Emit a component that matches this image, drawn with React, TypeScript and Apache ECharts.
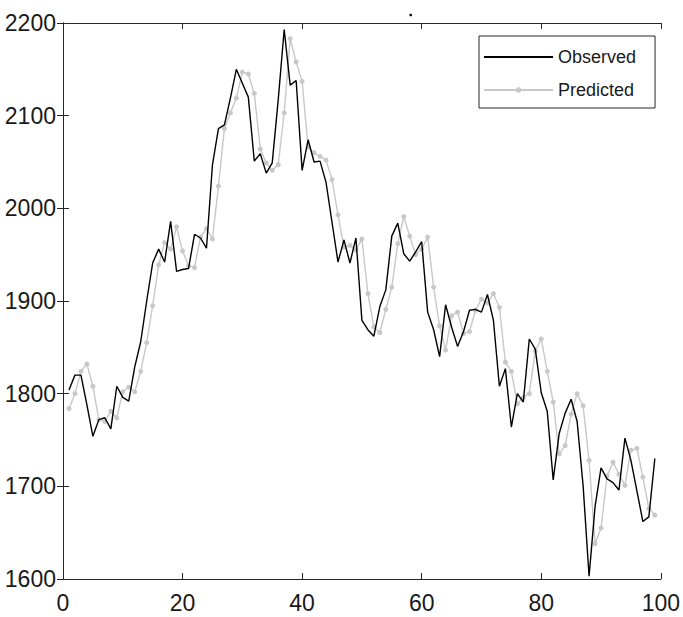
import React, { useEffect, useRef } from "react";
import * as echarts from "echarts";

const xTicks = [0, 20, 40, 60, 80, 100];
const yTickRange = { min: 1600, max: 2200, step: 100 };

const observed = [
  1804, 1820, 1820, 1788, 1754, 1772, 1774, 1762, 1808, 1796,
  1792, 1829, 1856, 1900, 1941, 1956, 1942, 1986, 1932, 1934,
  1935, 1972, 1968, 1957, 2047, 2086, 2090, 2119, 2150, 2135,
  2120, 2051, 2059, 2038, 2049, 2117, 2193, 2133, 2138, 2041,
  2074, 2050, 2051, 2028, 1985, 1942, 1966, 1941, 1968, 1879,
  1869, 1862, 1894, 1912, 1970, 1984, 1951, 1943, 1953, 1964,
  1888, 1869, 1840, 1896, 1872, 1851, 1867, 1890, 1891, 1888,
  1907, 1879, 1808, 1827, 1764, 1800, 1791, 1859, 1848, 1801,
  1781, 1707, 1757, 1779, 1794, 1770, 1701, 1603, 1678, 1720,
  1708, 1704, 1696, 1752, 1728, 1695, 1662, 1667, 1730,
];

const predicted = [
  1784, 1800, 1824, 1832, 1808, 1772, 1770, 1781, 1774, 1802,
  1807, 1802, 1824, 1855, 1895, 1939, 1963, 1956, 1980, 1954,
  1938, 1936, 1969, 1978, 1967, 2024, 2086, 2103, 2119, 2147,
  2145, 2124, 2064, 2049, 2041, 2047, 2103, 2183, 2158, 2137,
  2066, 2060, 2056, 2052, 2031, 1993, 1958, 1960, 1955, 1967,
  1908, 1872, 1866, 1891, 1915, 1962, 1991, 1970, 1950, 1956,
  1969, 1915, 1873, 1847, 1884, 1888, 1865, 1867, 1890, 1902,
  1898, 1908, 1893, 1834, 1824, 1789, 1796, 1800, 1846, 1859,
  1824, 1791, 1735, 1744, 1778, 1800, 1787, 1728, 1638, 1655,
  1711, 1726, 1713, 1701, 1739, 1741, 1710, 1676, 1669,
];

const seriesNames = ["Observed", "Predicted"];

export default function App() {
  const ref = useRef<HTMLDivElement>(null);
  useEffect(() => {
    if (!ref.current) return;
    const chart = echarts.init(ref.current, null, { renderer: "svg" });
    const axisColor = "#262626";
    const font = "'Liberation Sans', Arial, Helvetica, sans-serif";
    const xStep = xTicks[1] - xTicks[0];
    const baseX = {
      type: "value" as const,
      min: xTicks[0],
      max: xTicks[xTicks.length - 1],
      interval: xStep,
      splitLine: { show: false },
      axisLine: { show: true, lineStyle: { color: axisColor, width: 1 } },
      axisTick: { show: true, inside: true, length: 6, lineStyle: { color: axisColor } },
    };
    const baseY = {
      type: "value" as const,
      min: yTickRange.min,
      max: yTickRange.max,
      interval: yTickRange.step,
      splitLine: { show: false },
      axisLine: { show: true, lineStyle: { color: axisColor, width: 1 } },
      axisTick: { show: true, inside: true, length: 6, lineStyle: { color: axisColor } },
    };
    chart.setOption({
      animation: false,
      backgroundColor: "#ffffff",
      grid: { left: 63, top: 23, width: 602, height: 556, containLabel: false },
      xAxis: [
        {
          ...baseX,
          position: "bottom",
          axisLabel: {
            show: true, color: "#1a1a1a", fontSize: 23, fontFamily: font, margin: 12,
            formatter: (v: number) => String(v),
          },
        },
        { ...baseX, position: "top", axisLabel: { show: false } },
      ],
      yAxis: [
        {
          ...baseY,
          position: "left",
          axisLabel: {
            show: true, color: "#1a1a1a", fontSize: 23, fontFamily: font, margin: 7,
            formatter: (v: number) => String(v),
          },
        },
        { ...baseY, position: "right", axisLabel: { show: false } },
      ],
      legend: {
        orient: "vertical",
        left: 479,
        top: 36,
        backgroundColor: "#ffffff",
        borderColor: axisColor,
        borderWidth: 1,
        padding: [12, 19, 9, 4],
        itemWidth: 69,
        itemHeight: 7,
        itemGap: 15,
        textStyle: { fontSize: 18, fontFamily: font, color: "#1a1a1a" },
        data: [
          { name: seriesNames[0], itemStyle: { opacity: 0 } },
          { name: seriesNames[1] },
        ],
      },
      graphic: [
        { type: "circle", shape: { cx: 410.7, cy: 15, r: 1.3 }, style: { fill: "#000" } },
      ],
      series: [
        {
          name: seriesNames[0],
          type: "line",
          data: observed.map((v, i) => [i + 1, v]),
          symbol: "none",
          lineStyle: { color: "#000000", width: 1.4 },
          itemStyle: { color: "#000000" },
          z: 3,
        },
        {
          name: seriesNames[1],
          type: "line",
          data: predicted.map((v, i) => [i + 1, v]),
          symbol: "circle",
          symbolSize: 5,
          showSymbol: true,
          lineStyle: { color: "#c8c8c8", width: 1.4 },
          itemStyle: { color: "#c8c8c8" },
          z: 2,
        },
      ],
    });
    return () => chart.dispose();
  }, []);
  return (
    <div
      ref={ref}
      style={{ position: "fixed", left: 0, top: 0, width: 683, height: 617 }}
    />
  );
}
